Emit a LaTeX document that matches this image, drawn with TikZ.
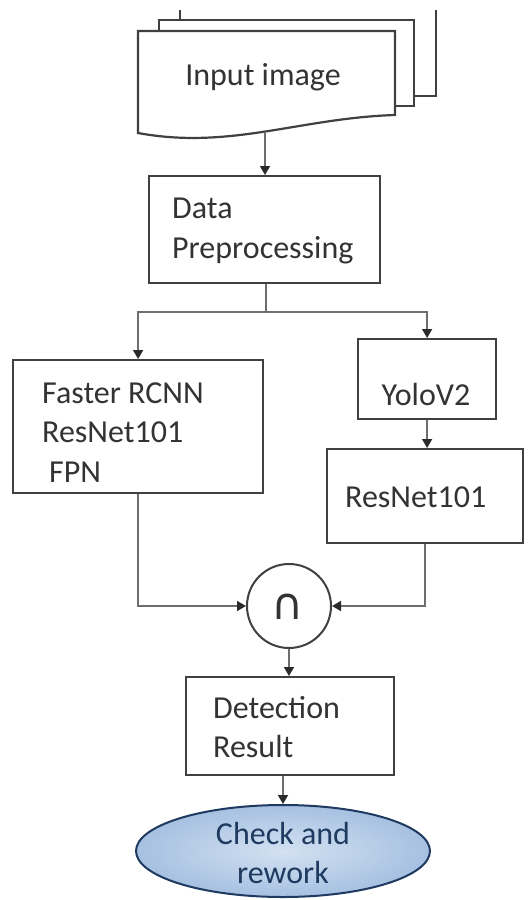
\documentclass[tikz,border=0pt]{standalone}
\usepackage{fontspec}
\setmainfont{Carlito}
\newfontfamily\symfont{DejaVu Sans}
\usetikzlibrary{arrows.meta,shapes.geometric}
\definecolor{edge}{HTML}{404040}
\definecolor{wirecol}{HTML}{6E6E6E}
\definecolor{tipcol}{HTML}{2A2A2A}
\definecolor{ink}{HTML}{333333}
\definecolor{navy}{HTML}{1F3A60}
\definecolor{skyA}{HTML}{D3E1F1}
\definecolor{skyB}{HTML}{A6C0E1}

\begin{document}
\begin{tikzpicture}[x=1pt,y=-1pt,
  font=\fontsize{32}{39.5}\selectfont, text=ink,
  box/.style={draw=edge, line width=2.2pt, fill=white, inner sep=0pt, anchor=north west},
  txt/.style={align=left, inner sep=0pt},
  wire/.style={draw=wirecol, line width=1.5pt},
  arr/.style={wire, -{Triangle[width=10pt,length=9pt,color=tipcol]}},
  page/.style={draw=edge, line width=2.2pt, fill=white, line join=miter}]

\useasboundingbox (0,0) rectangle (530,900);
\fill[white] (0,0) rectangle (530,900);
\clip (0,0) rectangle (530,900);

% stacked input documents (the rear sheet runs off the top edge)
\begin{scope}
  \clip (0,10) rectangle (530,900);
  \path[page] (180,-10) rectangle (436,96);
\end{scope}
\path[page] (159,20) rectangle (414,106);
\path[page] (138,31) -- (395,31) -- (395,115)
  .. controls (300,118) and (230,150) .. (138,133) -- cycle;
\node[txt] (inputtxt) at (263,77) {Input image};
\coordinate (docfoot) at (265,133);

% processing boxes
\node[box, minimum width=231pt, minimum height=107pt] (prep) at (148,175) {};
\node[txt, anchor=west] (preptxt) at (172,231) {Data\\Preprocessing};

\node[box, minimum width=250pt, minimum height=133pt] (faster) at (12,359) {};
\node[txt, anchor=west] (fastertxt) at (42,432.5) {Faster RCNN\\ResNet101\\\hspace*{7pt}FPN};

\node[box, minimum width=138pt, minimum height=80pt] (yolo) at (357,338) {};
\node[txt] (yolotxt) at (426,394) {YoloV2};

\node[box, minimum width=196pt, minimum height=94pt] (resnet) at (326,448) {};
\node[txt, anchor=west] (resnettxt) at (345,497) {ResNet101};

\node[draw=edge, line width=2pt, circle, minimum size=84pt, inner sep=0pt, fill=white]
  (inter) at (289,606) {};
\node[inner sep=0pt] (intersym) at (288,607) {\symfont\fontsize{44}{44}\selectfont ∩};

\node[box, minimum width=208pt, minimum height=98pt] (detect) at (185,676) {};
\node[txt, anchor=west] (detecttxt) at (213,727) {Detection\\Result};

\node[ellipse, draw=navy, line width=2pt, minimum width=294pt, minimum height=92pt,
  inner sep=0pt, inner color=skyA, outer color=skyB] (check) at (283,851) {};
\node[txt, align=center, text=navy] (checktxt) at (283,853) {Check and\\rework};

% connectors
\draw[arr] (docfoot) -- (docfoot |- prep.north);
\coordinate (split) at (266,312);
\draw[wire] (prep.south -| split) -- (split);
\draw[arr] (split) -| (faster.north);
\draw[arr] (split) -| (yolo.north);
\draw[arr] (yolo.south) -- (yolo.south |- resnet.north);
\draw[arr] (faster.south) |- (inter.west);
\draw[arr] (resnet.south) |- (inter.east);
\draw[arr] (inter.south) -- (detect.north -| inter.south);
\draw[arr] (detect.south -| check.north) -- (check.north);
\end{tikzpicture}
\end{document}
